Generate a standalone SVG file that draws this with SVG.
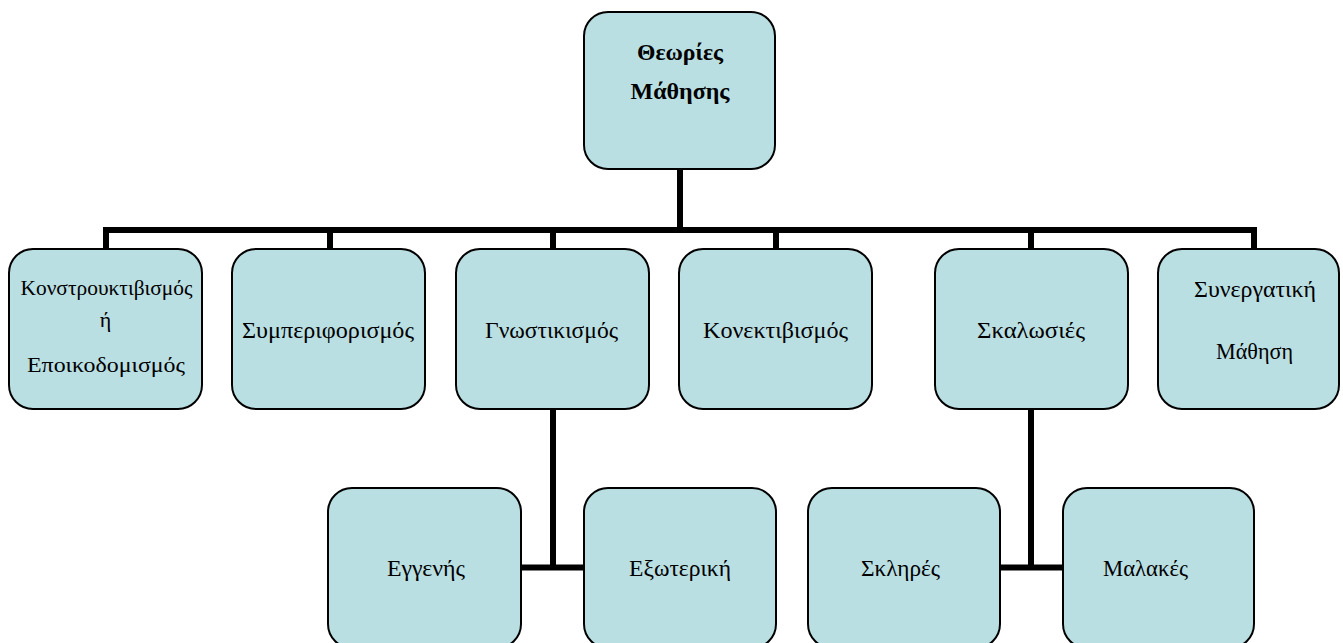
<svg xmlns="http://www.w3.org/2000/svg" width="1343" height="643" viewBox="0 0 1343 643">
<style>
.box{fill:#BADFE3;stroke:#000;stroke-width:2}
.t{font-family:"Liberation Serif","Times New Roman",serif;font-size:24px;fill:#000;text-anchor:middle}
.s{font-size:22px}
.b{font-weight:bold}
.c{stroke:#000;stroke-width:6;fill:none}
</style>
<rect width="1343" height="643" fill="#fff"/>
<g id="connectors">
<line class="c" x1="680" y1="169" x2="680" y2="230"/>
<line class="c" x1="103" y1="230" x2="1257" y2="230"/>
<line class="c" x1="106" y1="230" x2="106" y2="249"/>
<line class="c" x1="330" y1="230" x2="330" y2="249"/>
<line class="c" x1="553" y1="230" x2="553" y2="249"/>
<line class="c" x1="776" y1="230" x2="776" y2="249"/>
<line class="c" x1="1031" y1="230" x2="1031" y2="249"/>
<line class="c" x1="1254" y1="227" x2="1254" y2="249"/>
<line class="c" x1="553" y1="409" x2="553" y2="570"/>
<line class="c" x1="521" y1="567.5" x2="584" y2="567.5"/>
<line class="c" x1="1031" y1="409" x2="1031" y2="570"/>
<line class="c" x1="1000" y1="567.5" x2="1063" y2="567.5"/>
</g>
<g id="root">
<rect class="box" x="584" y="12" width="191" height="157" rx="24"/>
<text class="t b" x="680" y="60" textLength="86" lengthAdjust="spacingAndGlyphs">Θεωρίες</text>
<text class="t b" x="680" y="99" textLength="99" lengthAdjust="spacingAndGlyphs">Μάθησης</text>
</g>
<g id="n1">
<rect class="box" x="9" y="249" width="193" height="160" rx="24"/>
<text class="t s" x="106.5" y="295" textLength="172" lengthAdjust="spacingAndGlyphs">Κονστρουκτιβισμός</text>
<text class="t s" x="105.5" y="327">ή</text>
<text class="t s" x="106" y="372" textLength="158" lengthAdjust="spacingAndGlyphs">Εποικοδομισμός</text>
</g>
<g id="n2">
<rect class="box" x="232" y="249" width="193" height="160" rx="24"/>
<text class="t" x="328" y="338" textLength="172" lengthAdjust="spacingAndGlyphs">Συμπεριφορισμός</text>
</g>
<g id="n3">
<rect class="box" x="456" y="249" width="193" height="160" rx="24"/>
<text class="t" x="551.5" y="338" textLength="133" lengthAdjust="spacingAndGlyphs">Γνωστικισμός</text>
</g>
<g id="n4">
<rect class="box" x="679" y="249" width="193" height="160" rx="24"/>
<text class="t" x="775.5" y="338" textLength="145" lengthAdjust="spacingAndGlyphs">Κονεκτιβισμός</text>
</g>
<g id="n5">
<rect class="box" x="935" y="249" width="193" height="160" rx="24"/>
<text class="t" x="1031" y="338" textLength="108" lengthAdjust="spacingAndGlyphs">Σκαλωσιές</text>
</g>
<g id="n6">
<rect class="box" x="1158" y="249" width="181" height="160" rx="24"/>
<text class="t" x="1255" y="297" textLength="122" lengthAdjust="spacingAndGlyphs">Συνεργατική</text>
<text class="t" x="1254.5" y="359" textLength="77" lengthAdjust="spacingAndGlyphs">Μάθηση</text>
</g>
<g id="n7">
<rect class="box" x="328" y="488" width="193" height="160" rx="24"/>
<text class="t" x="426" y="576" textLength="78" lengthAdjust="spacingAndGlyphs">Εγγενής</text>
</g>
<g id="n8">
<rect class="box" x="584" y="488" width="192" height="160" rx="24"/>
<text class="t" x="680" y="576" textLength="102" lengthAdjust="spacingAndGlyphs">Εξωτερική</text>
</g>
<g id="n9">
<rect class="box" x="808" y="488" width="192" height="160" rx="24"/>
<text class="t" x="900.5" y="576" textLength="79" lengthAdjust="spacingAndGlyphs">Σκληρές</text>
</g>
<g id="n10">
<rect class="box" x="1063" y="488" width="191" height="160" rx="24"/>
<text class="t" x="1145.5" y="576" textLength="85" lengthAdjust="spacingAndGlyphs">Μαλακές</text>
</g>
</svg>
